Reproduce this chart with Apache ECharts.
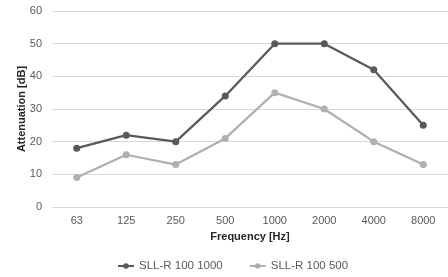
<!DOCTYPE html>
<html>
<head>
<meta charset="utf-8">
<script src="https://cdn.jsdelivr.net/npm/echarts@6/dist/echarts.min.js"></script>
<style>
  html, body { margin: 0; padding: 0; background: #fff; }
  #main { width: 448px; height: 277px; }
</style>
</head>
<body>
<div id="main"></div>
<script>
var frequencies = ['63', '125', '250', '500', '1000', '2000', '4000', '8000'];
var sll1000 = [18, 22, 20, 34, 50, 50, 42, 25];
var sll500 = [9, 16, 13, 21, 35, 30, 20, 13];

var chartDom = document.getElementById('main');
var myChart = echarts.init(chartDom, null, { renderer: 'canvas' });
var option;

option = {
  animation: false,
  textStyle: { fontFamily: 'Liberation Sans, Arial, sans-serif' },
  grid: {
    left: 52,
    right: 0,
    top: 11,
    bottom: 70
  },
  legend: {
    top: 255,
    left: 112,
    itemWidth: 16,
    itemHeight: 7,
    itemGap: 26,
    textStyle: { fontSize: 11.5, color: '#595959' },
    data: ['SLL-R 100 1000', 'SLL-R 100 500']
  },
  xAxis: {
    type: 'category',
    data: frequencies,
    name: 'Frequency [Hz]',
    nameLocation: 'middle',
    nameGap: 24,
    nameMoveOverlap: false,
    nameTextStyle: { fontSize: 11, fontWeight: 'bold', color: '#262626' },
    axisLine: { show: false },
    axisTick: { show: false },
    axisLabel: { fontSize: 11, color: '#595959', margin: 8 }
  },
  yAxis: {
    type: 'value',
    min: 0,
    max: 60,
    interval: 10,
    name: 'Attenuation [dB]',
    nameLocation: 'middle',
    nameGap: 25,
    nameMoveOverlap: false,
    nameTextStyle: { fontSize: 11, fontWeight: 'bold', color: '#262626' },
    axisLabel: { fontSize: 11, color: '#595959', margin: 10 },
    splitLine: { lineStyle: { color: '#d9d9d9', width: 1 } }
  },
  series: [
    {
      name: 'SLL-R 100 1000',
      type: 'line',
      data: sll1000,
      symbol: 'circle',
      symbolSize: 7,
      itemStyle: { color: '#595959' },
      lineStyle: { color: '#595959', width: 2.25 }
    },
    {
      name: 'SLL-R 100 500',
      type: 'line',
      data: sll500,
      symbol: 'circle',
      symbolSize: 7,
      itemStyle: { color: '#b0b0b0' },
      lineStyle: { color: '#b0b0b0', width: 2.25 }
    }
  ]
};

option && myChart.setOption(option);
</script>
</body>
</html>
